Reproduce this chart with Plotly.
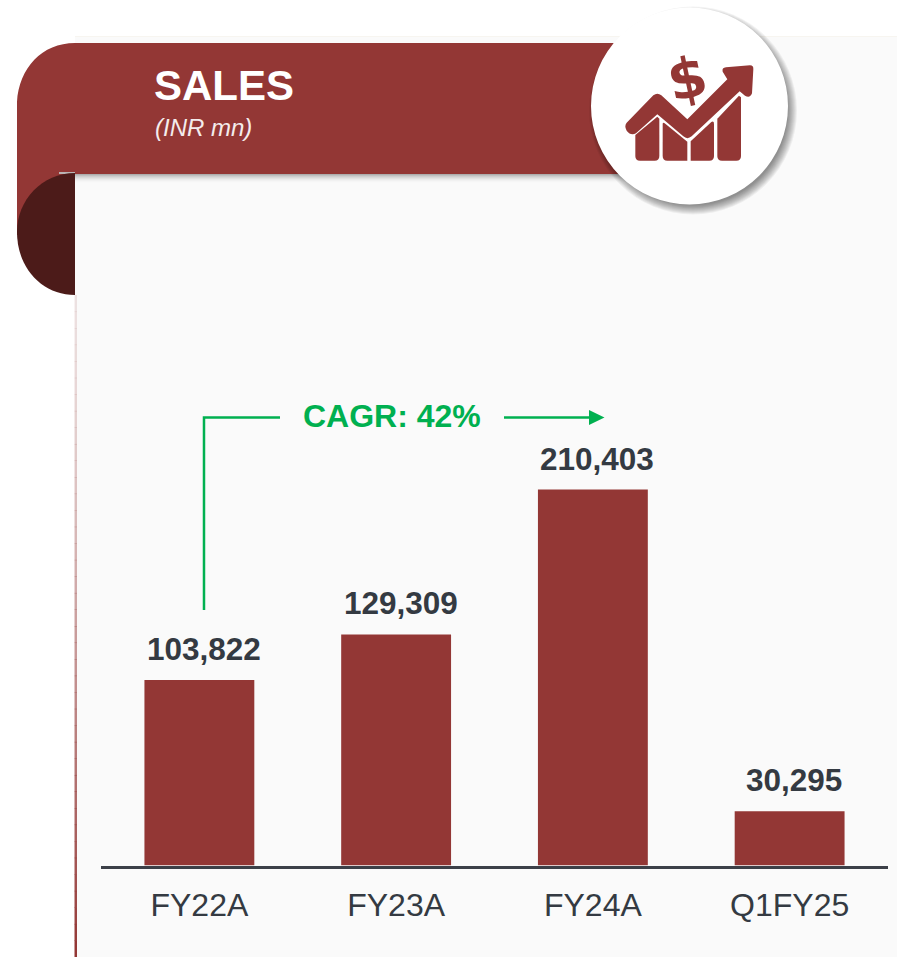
import re
import plotly.graph_objects as go

# ---- data ----
categories = ["FY22A", "FY23A", "FY24A", "Q1FY25"]
sales = [103822, 129309, 210403, 30295]
title_text = "SALES"
subtitle_text = "(INR mn)"
cagr_text = "CAGR: 42%"

# ---- style ----
W, H = 897, 957
RED = "#933735"
DARK = "#4c1b19"
INK = "#343a42"
GREEN = "#00b050"
PANEL = "#fafafa"
FONT = "Liberation Sans"


def fx(x):
    return x / W


def fy(y):
    return 1 - y / H


def path(d):
    out, is_x = [], True
    for tok in re.findall(r"[A-Za-z]|-?\d+\.?\d*", d):
        if tok.isalpha():
            out.append(tok)
            is_x = True
        else:
            out.append(f"{fx(float(tok)) if is_x else fy(float(tok)):.5f}")
            is_x = not is_x
    return " ".join(out)


def shp(d, fill=None, line=None, lw=0, layer="below", opacity=1):
    return dict(type="path", path=path(d), xref="paper", yref="paper", layer=layer,
                fillcolor=fill or "rgba(0,0,0,0)", opacity=opacity,
                line=dict(color=line or "rgba(0,0,0,0)", width=lw))


def rect(x0, y0, x1, y1, fill, opacity=1):
    return dict(type="rect", xref="paper", yref="paper", layer="below",
                x0=fx(x0), x1=fx(x1), y0=fy(y0), y1=fy(y1), fillcolor=fill,
                opacity=opacity, line=dict(width=0))


def circ(cx, cy, r, fill, opacity=1):
    return dict(type="circle", xref="paper", yref="paper", layer="below",
                x0=fx(cx - r), x1=fx(cx + r), y0=fy(cy - r), y1=fy(cy + r),
                fillcolor=fill, opacity=opacity, line=dict(width=0))


def ipath(d):
    """Icon path written in zoomed-crop units."""
    out, is_x = [], True
    for tok in re.findall(r"[A-Za-z]|-?\d+\.?\d*", d):
        if tok.isalpha():
            out.append(tok)
            is_x = True
        else:
            v = float(tok)
            out.append(f"{v / 3 + 570 if is_x else v / 3:.2f}")
            is_x = not is_x
    return " ".join(out)


shapes = []
# panel
shapes.append(rect(75, 36, 897, 957, PANEL))
shapes.append(rect(75, 36, 897, 37, "#f7f5f0"))
# left edge line, fading down into the red
steps = 40
for i in range(steps):
    y0 = 295 + i * (957 - 295) / steps
    y1 = y0 + (957 - 295) / steps + 0.5
    t = (i + 1) / steps
    shapes.append(rect(74.5, y0, 77, y1, RED, opacity=0.12 + 0.88 * t ** 1.4))
# banner shadow
for i in range(9):
    shapes.append(rect(75, 174 + i, 650, 175 + i, "#000000", opacity=0.30 * (1 - i / 9) ** 2))
# banner
shapes.append(shp("M 75 43 L 640 43 L 640 174 L 75 174 L 75 235 L 17 235 L 17 102 "
                  "C 19 68 42 43 75 43 Z", fill=RED))
shapes.append(rect(59, 172, 75, 174, "#b9b4b4"))
# dark fold
shapes.append(shp("M 75 173 C 42 173 17 200 17 232 C 17 268 42 295 75 295 Z", fill=DARK))
# circle shadow and circle
for i in range(10):
    shapes.append(circ(693, 110.5, 104 - i, "#000000", opacity=0.05))
shapes.append(circ(689.5, 106, 98.5, "#ffffff"))
# icon
for bar in [
    "M 196 405 L 262 350 L 268 356 L 268 468 Q 268 482 254 482 L 210 482 Q 196 482 196 468 Z",
    "M 278 372 Q 278 366 284 370 L 352 425 L 352 482 L 292 482 Q 278 482 278 468 Z",
    "M 362 424 L 424 366 Q 432 362 432 372 L 432 468 Q 432 482 418 482 L 362 482 Z",
    "M 442 356 L 507 287 L 513 292 L 513 468 Q 513 482 499 482 L 456 482 Q 442 482 442 468 Z",
]:
    shapes.append(shp(ipath(bar), fill=RED, layer="above"))
shapes.append(shp(ipath(
    "M 170 368 L 250 286 Q 262 276 274 286 L 352 358 L 472 238 L 458 215 Q 455 203 468 202 "
    "L 540 196 Q 551 196 550 208 L 546 280 Q 540 296 525 287 L 509 274 L 365 409 Q 352 420 340 409 "
    "L 262 343 L 198 400 Q 182 408 170 392 Q 162 378 170 368 Z"), fill=RED, layer="above"))
# CAGR bracket
shapes.append(shp("M 204 610 L 204 417.6 L 280 417.6", line=GREEN, lw=2.5))
shapes.append(shp("M 504 417.6 L 592 417.6", line=GREEN, lw=2.5))
shapes.append(shp("M 589 410 L 604.5 417.6 L 589 425 Z", fill=GREEN))

annotations = [
    dict(text=f"<b>{title_text}</b>", x=fx(152), y=fy(86), xanchor="left", yanchor="middle",
         font=dict(size=42, color="#ffffff", family=FONT)),
    dict(text=f"<i>{subtitle_text}</i>", x=fx(153), y=fy(128), xanchor="left", yanchor="middle",
         font=dict(size=24, color="#f4ecec", family=FONT)),
    dict(text=f"<b>{cagr_text}</b>", x=fx(391.5), y=fy(416.5), xanchor="center", yanchor="middle",
         font=dict(size=32, color=GREEN, family=FONT)),
    dict(text="<b>$</b>", x=fx(687), y=fy(79), xanchor="center", yanchor="middle", textangle=-12,
         font=dict(size=56, color=RED, family="DejaVu Sans")),
]
annotations = [dict(a, xref="paper", yref="paper", showarrow=False) for a in annotations]
for c, v in zip(categories, sales):
    annotations.append(dict(text=f"<b>{v:,}</b>", x=c, y=v, xref="x", yref="y", showarrow=False,
                            xanchor="center", yanchor="bottom", yshift=11, xshift=4.5,
                            font=dict(size=31.5, color=INK, family=FONT)))

fig = go.Figure(go.Bar(x=categories, y=sales, marker=dict(color=RED, line=dict(width=0)),
                       width=110 / 197, hoverinfo="skip"))
fig.update_layout(
    width=W, height=H, autosize=False, showlegend=False,
    margin=dict(l=0, r=0, t=0, b=0, pad=0),
    paper_bgcolor="#ffffff", plot_bgcolor="rgba(0,0,0,0)",
    shapes=shapes, annotations=annotations,
    font=dict(family=FONT),
    xaxis=dict(domain=[101 / W, 888 / W], type="category", categoryorder="array",
               categoryarray=categories, range=[-0.5, 3.5], showgrid=False, zeroline=False,
               showline=True, linecolor="#3c4048", linewidth=3, ticks="",
               ticklabelstandoff=9, tickfont=dict(size=32, color=INK, family=FONT)),
    yaxis=dict(domain=[1 - 865.5 / H, 1 - 400 / H], range=[0, 465.5 / 376 * 210403], visible=False),
)
fig.write_html("out.html", config={"displayModeBar": False},
               post_script="document.body.style.margin='0';")
